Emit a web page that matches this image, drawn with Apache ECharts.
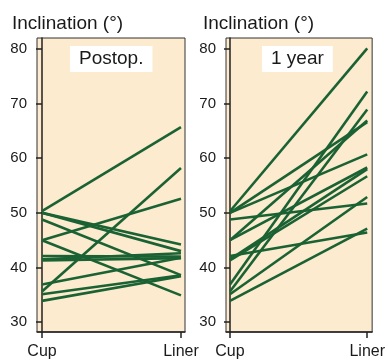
<!DOCTYPE html>
<html>
<head>
<meta charset="utf-8">
<script src="https://cdn.jsdelivr.net/npm/echarts@6/dist/echarts.min.js"></script>
<style>
    html, body { margin: 0; padding: 0; background: #fff; }
    #chart { width: 388px; height: 360px; }
</style>
</head>
<body>
<div id="chart"></div>
<script>
    // same cups, liner angle right after surgery and after 1 year
    var categories = ['Cup', 'Liner']
    var cupValues        = [50.3, 50.0, 50.0, 48.8, 45.0, 45.0, 42.1, 41.5, 41.3, 36.9, 35.6, 35.1, 33.9]
    var postopLiner      = [65.7, 44.2, 43.0, 38.6, 52.6, 34.9, 42.0, 42.6, 41.7, 41.8, 58.2, 38.6, 38.4]
    var oneYearLiner     = [80.1, 66.6, 60.7, 51.7, 66.9, 58.3, 46.4, 58.0, 56.7, 72.2, 68.9, 52.9, 47.1]
    var yTicks = [30, 40, 50, 60, 70, 80]
    var panelNames = ['Postop.', '1 year']

    var lineColor = '#1a6233'
    var textColor = '#1a1a1a'
    var font = 'Liberation Sans'

    function buildXAxis(idx, min, max) {
        return {
            gridIndex: idx,
            type: 'value',
            min: min,
            max: max,
            splitLine: {show: false},
            axisLine: {lineStyle: {color: '#222', width: 1.5}},
            axisTick: {length: 6, lineStyle: {color: '#222', width: 1.5}, customValues: [0, 1]},
            axisLabel: {
                customValues: [0, 1],
                formatter: function (v) { return categories[Math.round(v)] },
                color: textColor, fontSize: 16, fontFamily: font, margin: 12
            }
        }
    }

    function buildYAxis(idx) {
        return {
            gridIndex: idx,
            type: 'value',
            min: 28.2,
            max: 82,
            splitLine: {show: false},
            axisLine: {show: true, lineStyle: {color: '#222', width: 1.5}},
            axisTick: {show: true, length: 6, lineStyle: {color: '#222', width: 1.5}, customValues: yTicks},
            axisLabel: {customValues: yTicks, color: textColor, fontSize: 15, fontFamily: font, margin: 10}
        }
    }

    var series = []
    function addPanel(idx, liner) {
        for (var i = 0; i < cupValues.length; i++) {
            series.push({
                type: 'line',
                xAxisIndex: idx,
                yAxisIndex: idx,
                symbol: 'none',
                silent: true,
                lineStyle: {color: lineColor, width: 2.6},
                data: [[0, cupValues[i]], [1, liner[i]]]
            })
        }
    }
    addPanel(0, postopLiner)
    addPanel(1, oneYearLiner)

    var boxStyle = {
        backgroundColor: '#fff',
        padding: [3, 9, 3, 9],
        textStyle: {color: textColor, fontSize: 19, fontWeight: 'normal', fontFamily: font, lineHeight: 20}
    }

    var option = {
        animation: false,
        backgroundColor: '#fff',
        title: [
            {text: 'Inclination (°)', left: 7, top: 9, textStyle: {color: textColor, fontSize: 19, fontWeight: 'normal', fontFamily: font}},
            {text: 'Inclination (°)', left: 198, top: 9, textStyle: {color: textColor, fontSize: 19, fontWeight: 'normal', fontFamily: font}},
            Object.assign({text: panelNames[0], left: 70, top: 46}, boxStyle),
            Object.assign({text: panelNames[1], left: 262, top: 46}, boxStyle)
        ],
        grid: [
            {left: 37, top: 38, width: 148, height: 295, show: true, backgroundColor: '#fcebcf', borderColor: '#333', borderWidth: 1},
            {left: 226, top: 38, width: 147, height: 295, show: true, backgroundColor: '#fcebcf', borderColor: '#333', borderWidth: 1}
        ],
        xAxis: [buildXAxis(0, -0.036, 1.029), buildXAxis(1, -0.029, 1.036)],
        yAxis: [buildYAxis(0), buildYAxis(1)],
        series: series
    }

    var chart = echarts.init(document.getElementById('chart'))
    chart.setOption(option)
</script>
</body>
</html>
